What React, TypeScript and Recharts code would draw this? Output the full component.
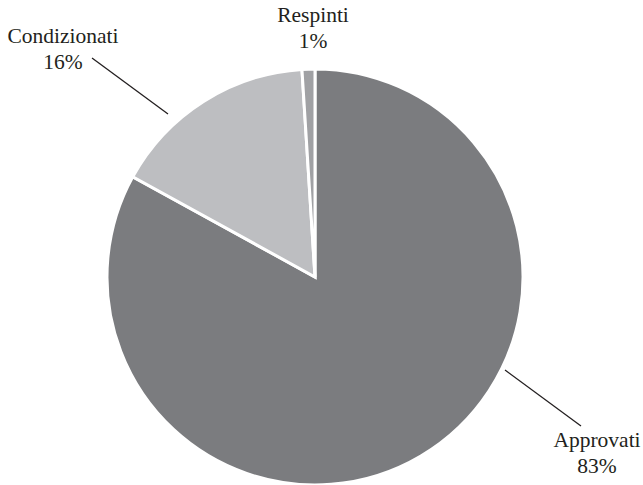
import { PieChart, Pie, Cell } from 'recharts'

const categories = ['Approvati', 'Condizionati', 'Respinti']
const percentages = [83, 16, 1]
const COLORS = ['#7b7c7f', '#bdbec1', '#a0a1a4']

// label placement relative to the pie centre
const LABELS: Record<string, { text: [number, number]; line?: [number, number, number, number] }> = {
  Approvati: { text: [282, 170], line: [190, 93, 266, 149] },
  Condizionati: { text: [-252, -234], line: [-147, -163, -223, -219] },
  Respinti: { text: [-2, -255] },
}

const data = categories.map((name, i) => ({ name, value: percentages[i] }))

const renderLabel = (props: any) => {
  const { cx, cy, name, value } = props
  const cfg = LABELS[name]
  if (!cfg) return null
  const [tx, ty] = cfg.text
  return (
    <g>
      {cfg.line && (
        <line
          x1={cx + cfg.line[0]}
          y1={cy + cfg.line[1]}
          x2={cx + cfg.line[2]}
          y2={cy + cfg.line[3]}
          stroke="#231f20"
          strokeWidth={1.3}
        />
      )}
      <text x={cx + tx} y={cy + ty} textAnchor="middle" fill="#231f20" fontSize={21.5} fontFamily="'Liberation Serif', serif">
        {name}
      </text>
      <text x={cx + tx} y={cy + ty + 26} textAnchor="middle" fill="#231f20" fontSize={21.5} fontFamily="'Liberation Serif', serif">
        {`${value}%`}
      </text>
    </g>
  )
}

export default function App() {
  return (
    <div style={{ position: 'absolute', left: 0, top: 0, width: 643, height: 485, background: '#fff' }}>
      <PieChart width={643} height={485} margin={{ top: 0, right: 0, bottom: 0, left: 0 }}>
        <Pie
          data={data}
          dataKey="value"
          nameKey="name"
          cx={315}
          cy={277}
          outerRadius={208}
          startAngle={90}
          endAngle={-270}
          stroke="#ffffff"
          strokeWidth={3}
          labelLine={false}
          label={renderLabel}
          isAnimationActive={false}
        >
          {data.map((_, index) => (
            <Cell key={`cell-${index}`} fill={COLORS[index % COLORS.length]} />
          ))}
        </Pie>
      </PieChart>
    </div>
  )
}
